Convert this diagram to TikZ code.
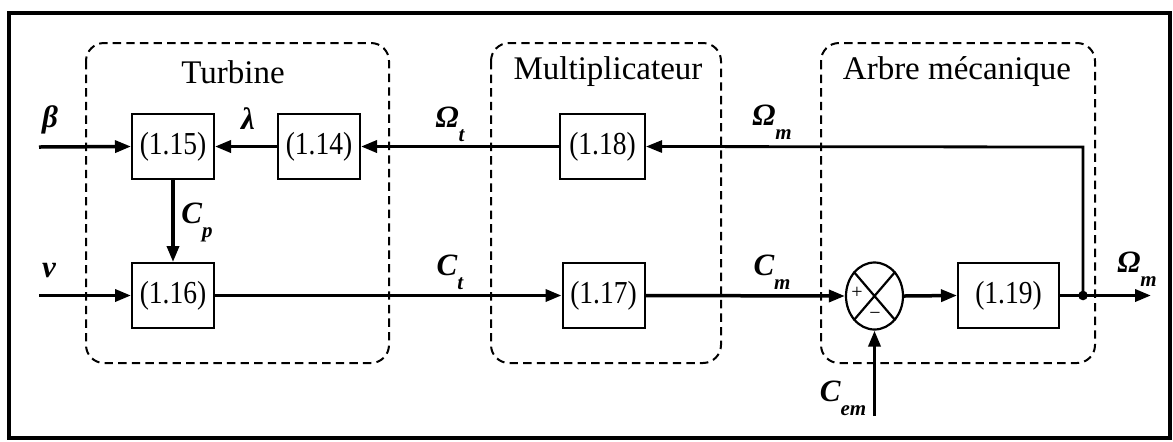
\documentclass[tikz,border=0pt]{standalone}
\usepackage{fontspec}
\setmainfont{Liberation Serif}
\newfontfamily\blkfont[FakeStretch=0.86]{Liberation Serif}
\usetikzlibrary{arrows.meta,shapes.geometric}
\newcommand\sig[2]{#1\raisebox{-0.45em}{\fontsize{10.5}{11}\selectfont #2}}
\begin{document}
\begin{tikzpicture}[x=0.5pt,y=-0.5pt,
  blk/.style={draw,line width=1pt,minimum width=41pt,minimum height=32.5pt,inner sep=0pt,font=\blkfont\fontsize{16}{18}\selectfont},
  grp/.style={draw,dashed,line width=1pt,dash pattern=on 4.2pt off 2.6pt,rounded corners=9pt},
  ttl/.style={font=\fontsize{16.5}{18}\selectfont},
  lbl/.style={font=\fontsize{15.5}{17}\selectfont\bfseries\itshape,inner sep=0pt},
  sg/.style={line width=1.75pt,-{Triangle[length=8pt,width=6pt]}},
  ln/.style={line width=1.75pt}]
\useasboundingbox (0,0) rectangle (1173,441);
\draw[line width=1.9pt] (9,13) rectangle (1170,438);
% groups
\draw[grp] (86,43) rectangle (389,363);
\draw[grp] (491,43) rectangle (721,363);
\draw[grp] (821,43) rectangle (1095,363);
\node[ttl] (tturb) at (233,72) {Turbine};
\node[ttl] (tmult) at (608,72) {Multiplicateur};
\node[ttl] (tarbre) at (957,72) {Arbre mécanique};
% blocks
\node[blk] (b15) at (173,146.5) {(1.15)};
\node[blk] (b14) at (319,146.5) {(1.14)};
\node[blk] (b16) at (173,295.5) {(1.16)};
\node[blk,minimum width=42.5pt] (b18) at (602.5,146.5) {(1.18)};
\node[blk] (b17) at (603.5,295.5) {(1.17)};
\node[blk,minimum width=50.5pt] (b19) at (1008.5,295.5) {(1.19)};
\node[ellipse,draw,line width=1.1pt,minimum width=28.5pt,minimum height=33.5pt,inner sep=0pt] (sum) at (874.5,296) {};
\draw[line width=1.1pt] (sum.north east) -- (sum.south west) (sum.north west) -- (sum.south east);
\node[font=\fontsize{10}{10}\selectfont,inner sep=0pt] (plus) at (857,293) {+};
\node[font=\fontsize{10}{10}\selectfont,inner sep=0pt] (minus) at (875,316) {\textminus};
% coordinates
\coordinate (betain) at (39,147);
\coordinate (vin) at (39,295.5);
\coordinate (jn) at (1083,295.5);
\coordinate (jtop) at (1083,147);
\coordinate (out) at (1151,295.5);
\coordinate (cemin) at (874.5,416);
% signals
\draw[sg] (betain) -- (b15.west);
\draw[sg] (vin) -- (b16.west);
\draw[sg] (b14.west) -- (b15.east);
\draw[sg] (b18.west) -- (b14.east);
\draw[sg] (b15.south) -- (b16.north);
\draw[sg] (b16.east) -- (b17.west);
\draw[sg] (b17.east) -- (sum.west);
\draw[sg] (sum.east) -- (b19.west);
\draw[sg] (b19.east) -- (out);
\draw[sg] (cemin) -- (sum.south);
\draw[line width=1.4pt,-{Triangle[length=8pt,width=6pt]}] (jn) -- (jtop) -- (b18.east);
\fill (jn) circle (2.4pt);
% labels
\node[lbl] (lbeta) at (50,120) {β};
\node[lbl] (llam) at (248,119) {λ};
\node[lbl] (lcp) at (197,222) {\sig{C}{p}};
\node[lbl] (lv) at (49,271) {v};
\node[lbl] (lot) at (450,124) {\sig{Ω}{t}};
\node[lbl] (lct) at (450,272) {\sig{C}{t}};
\node[lbl] (lom) at (772,122) {\sig{Ω}{m}};
\node[lbl] (lcm) at (772,272) {\sig{C}{m}};
\node[lbl] (lomr) at (1137,269) {\sig{Ω}{m}};
\node[lbl] (lcem) at (843,398) {\sig{C}{em}};
\end{tikzpicture}
\end{document}
